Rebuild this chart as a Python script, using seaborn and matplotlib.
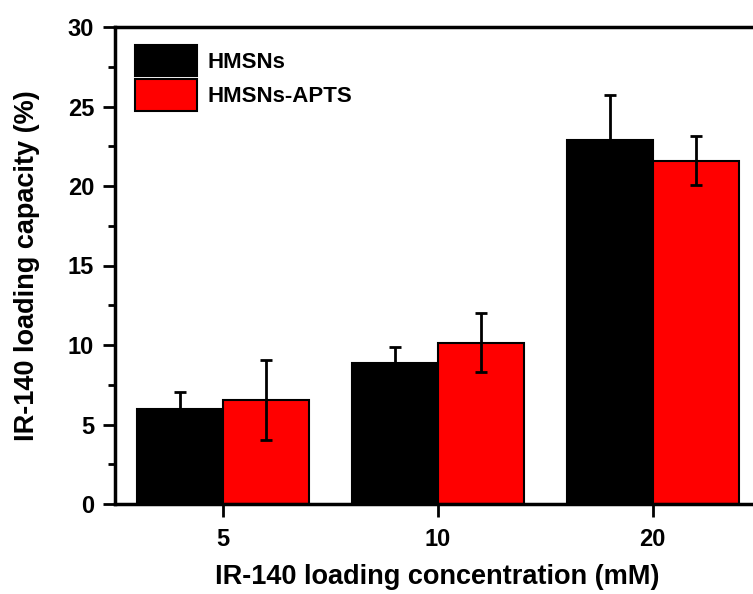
import matplotlib
matplotlib.use("Agg")
import matplotlib.pyplot as plt
import seaborn as sns
import pandas as pd
from matplotlib.ticker import MultipleLocator

concentrations = ["5", "10", "20"]
series_names = ["HMSNs", "HMSNs-APTS"]
hmsns_vals = [5.95, 8.85, 22.9]
hmsns_err = [1.1, 1.05, 2.8]
apts_vals = [6.55, 10.15, 21.6]
apts_err = [2.5, 1.85, 1.55]
colors = ["#000000", "#ff0000"]

df = pd.DataFrame({
    "conc": concentrations * 2,
    "value": hmsns_vals + apts_vals,
    "err": hmsns_err + apts_err,
    "group": [series_names[0]] * 3 + [series_names[1]] * 3,
})

sns.set_style("ticks")
plt.rcParams["font.family"] = ["Liberation Sans", "DejaVu Sans"]
plt.rcParams["font.weight"] = "bold"
for key in ["text.color", "axes.labelcolor", "xtick.color", "ytick.color", "axes.edgecolor"]:
    plt.rcParams[key] = "black"

fig = plt.figure(figsize=(7.53, 5.94), dpi=100)
ax = fig.add_axes([115 / 753, 1 - 504 / 594, 645 / 753, 477 / 594])

sns.barplot(data=df, x="conc", y="value", hue="group", order=concentrations,
            hue_order=series_names, palette=colors, errorbar=None,
            edgecolor="black", linewidth=1.5, width=0.8, saturation=1, ax=ax)

# error bars centred on each drawn bar
bars = [p for p in ax.patches if p.get_height() > 0][:6]
for bar, (_, row) in zip(bars, df.iterrows()):
    xc = bar.get_x() + bar.get_width() / 2
    ax.errorbar(xc, row["value"], yerr=row["err"], fmt="none", ecolor="black",
                elinewidth=2, capsize=4.2, capthick=2, zorder=5)

ax.set_xlim(-0.5, 2.5)
ax.set_ylim(0, 30)
ax.yaxis.set_major_locator(MultipleLocator(5))
ax.yaxis.set_minor_locator(MultipleLocator(2.5))
ax.tick_params(axis="both", which="major", length=9, width=2, labelsize=17,
               direction="out", colors="black", pad=6)
ax.tick_params(axis="x", which="major", pad=8)
ax.tick_params(axis="y", which="minor", length=5, width=2, direction="out", colors="black")
for lab in ax.get_xticklabels() + ax.get_yticklabels():
    lab.set_fontweight("bold")

for side in ["left", "bottom", "top", "right"]:
    ax.spines[side].set_visible(True)
    ax.spines[side].set_linewidth(2.5)
    ax.spines[side].set_color("black")

ax.set_xlabel("IR-140 loading concentration (mM)", fontsize=19.5, fontweight="bold", labelpad=10)
ax.set_ylabel("IR-140 loading capacity (%)", fontsize=19.5, fontweight="bold", labelpad=20)

leg = ax.legend(loc="upper left", frameon=False, fontsize=16, handlelength=2.8,
                handleheight=1.8, labelspacing=0.12, handletextpad=0.45,
                bbox_to_anchor=(20 / 645, 1 - 18 / 477), borderaxespad=0.0,
                borderpad=0.0)
for t in leg.get_texts():
    t.set_fontweight("bold")
    t.set_color("black")

fig.savefig("out.png", dpi=100)
